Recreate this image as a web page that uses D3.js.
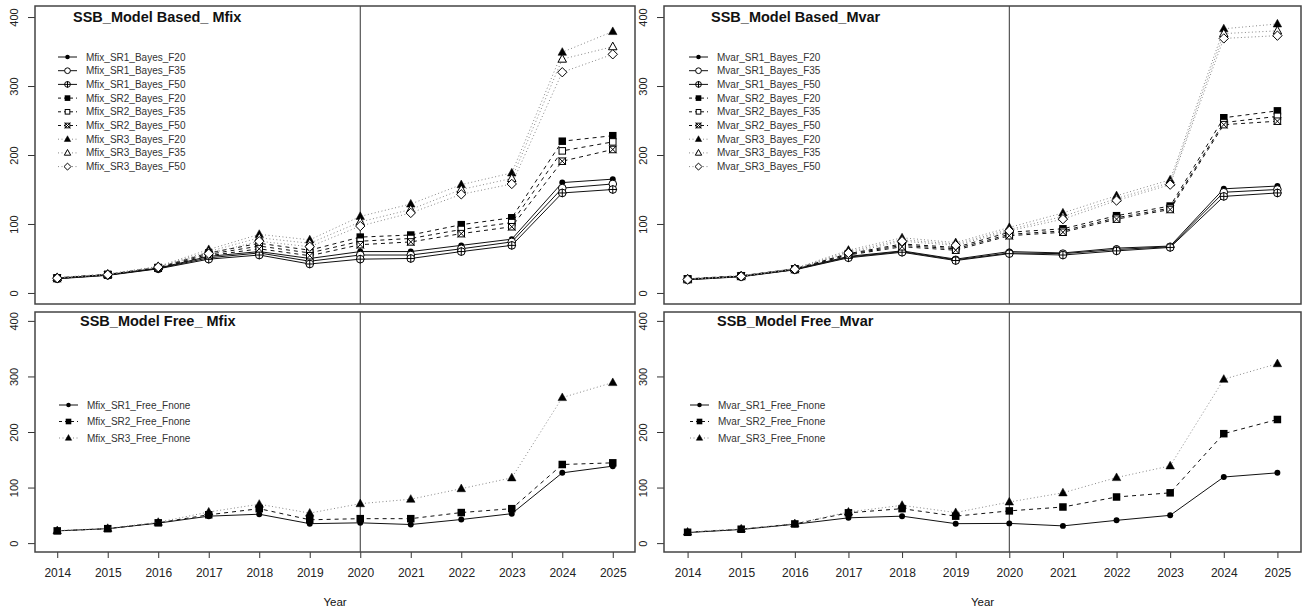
<!DOCTYPE html>
<html>
<head>
<meta charset="utf-8">
<script src="https://cdn.jsdelivr.net/npm/d3@7"></script>
<style>
body { margin: 0; background: #fff; }
text { font-family: Arial, "Liberation Sans", sans-serif; }
</style>
</head>
<body>
<svg id="chart" width="1307" height="612"></svg>
<script>
var years = [2014, 2015, 2016, 2017, 2018, 2019, 2020, 2021, 2022, 2023, 2024, 2025];
var yTicks = [0, 100, 200, 300, 400];

// SSB, model based, Mfix
var mfixSR1F20 = [21.5, 26.5, 36, 53, 60, 50, 60, 60, 69, 78, 160, 165];
var mfixSR1F35 = [21, 26, 35.5, 51, 58, 46, 55, 55, 64, 74, 152, 158];
var mfixSR1F50 = [20.5, 25.5, 35, 49, 55, 42, 49, 50, 60, 69, 145, 150];
var mfixSR2F20 = [22, 27, 37, 58, 72, 62, 81, 84, 99, 109, 220, 228];
var mfixSR2F35 = [21.5, 26.5, 36.5, 56, 68, 58, 75, 79, 92, 102, 206, 219];
var mfixSR2F50 = [21, 26, 36, 54, 64, 54, 70, 74, 86, 96, 191, 208];
var mfixSR3F20 = [22.5, 27.5, 38.5, 63, 85, 77, 111, 129, 157, 174, 349, 379];
var mfixSR3F35 = [22, 27, 38, 60, 80, 72, 103, 121, 150, 166, 339, 357];
var mfixSR3F50 = [21.5, 26.5, 37.5, 57, 75, 67, 97, 116, 143, 158, 320, 346];

// SSB, model based, Mvar
var mvarSR1F20 = [20, 24.5, 34.5, 53, 61, 49, 60, 58, 65, 68, 151, 155];
var mvarSR1F35 = [19.5, 24, 34, 52, 60, 48, 58, 57, 63, 67, 146, 150];
var mvarSR1F50 = [19, 23.5, 33.5, 51, 59, 47, 57, 55, 61, 66, 140, 145];
var mvarSR2F20 = [20.5, 25, 35, 57, 71, 66, 88, 93, 112, 126, 254, 264];
var mvarSR2F35 = [20, 24.5, 34.5, 56, 69, 64, 85, 90, 109, 123, 247, 256];
var mvarSR2F50 = [19.5, 24, 34, 55, 67, 62, 83, 88, 107, 121, 244, 249];
var mvarSR3F20 = [20.5, 25, 35.5, 62, 80, 73, 95, 116, 141, 164, 383, 390];
var mvarSR3F35 = [20, 24.5, 35, 60, 77, 71, 92, 111, 137, 160, 376, 380];
var mvarSR3F50 = [19.5, 24, 34.5, 58, 75, 69, 90, 107, 134, 157, 369, 373];

// SSB, model free
var mfixSR1Free = [22, 26, 36, 48.5, 52, 35, 36.5, 33.5, 42.5, 53, 126.5, 138.5];
var mfixSR2Free = [22, 26, 36.5, 51, 62, 42, 44, 44, 55, 62, 141.5, 144.5];
var mfixSR3Free = [22.5, 26.5, 37.5, 56, 70, 54, 71, 79, 98, 117.5, 262, 289];
var mvarSR1Free = [19, 24.5, 34, 45.5, 48.5, 35, 35.5, 31, 41, 50, 119, 126.5];
var mvarSR2Free = [19.5, 25, 34.5, 54.5, 62, 48.5, 58, 65, 83, 90.5, 197, 222.5];
var mvarSR3Free = [20, 25.5, 35, 56, 68, 55, 74, 90.5, 118, 139, 295, 323];

function based(prefix, d) {
  return [
    {name: prefix + "_SR1_Bayes_F20", values: d[0], lty: "solid", pch: "dot"},
    {name: prefix + "_SR1_Bayes_F35", values: d[1], lty: "solid", pch: "circle"},
    {name: prefix + "_SR1_Bayes_F50", values: d[2], lty: "solid", pch: "circlePlus"},
    {name: prefix + "_SR2_Bayes_F20", values: d[3], lty: "dash", pch: "square"},
    {name: prefix + "_SR2_Bayes_F35", values: d[4], lty: "dash", pch: "squareOpen"},
    {name: prefix + "_SR2_Bayes_F50", values: d[5], lty: "dash", pch: "squareX"},
    {name: prefix + "_SR3_Bayes_F20", values: d[6], lty: "dot", pch: "triangle"},
    {name: prefix + "_SR3_Bayes_F35", values: d[7], lty: "dot", pch: "triangleOpen"},
    {name: prefix + "_SR3_Bayes_F50", values: d[8], lty: "dot", pch: "diamond"}
  ];
}
function free(prefix, d) {
  return [
    {name: prefix + "_SR1_Free_Fnone", values: d[0], lty: "solid", pch: "dot"},
    {name: prefix + "_SR2_Free_Fnone", values: d[1], lty: "dash", pch: "square"},
    {name: prefix + "_SR3_Free_Fnone", values: d[2], lty: "dot", pch: "triangle"}
  ];
}

var panels = [
  {x0: 35, x1: 635, y0: 6, y1: 304, title: "SSB_Model Based_ Mfix", tx: 73, ty: 22,
   lx: 58, ly: 57, lstep: 13.7, xAxis: false,
   series: based("Mfix", [mfixSR1F20, mfixSR1F35, mfixSR1F50, mfixSR2F20, mfixSR2F35, mfixSR2F50, mfixSR3F20, mfixSR3F35, mfixSR3F50])},
  {x0: 664, x1: 1301, y0: 6, y1: 304, title: "SSB_Model Based_Mvar", tx: 711, ty: 22,
   lx: 689, ly: 57, lstep: 13.7, xAxis: false,
   series: based("Mvar", [mvarSR1F20, mvarSR1F35, mvarSR1F50, mvarSR2F20, mvarSR2F35, mvarSR2F50, mvarSR3F20, mvarSR3F35, mvarSR3F50])},
  {x0: 35, x1: 635, y0: 312, y1: 552, title: "SSB_Model Free_ Mfix", tx: 80, ty: 326,
   lx: 59, ly: 405, lstep: 16.5, xAxis: true,
   series: free("Mfix", [mfixSR1Free, mfixSR2Free, mfixSR3Free])},
  {x0: 664, x1: 1301, y0: 312, y1: 552, title: "SSB_Model Free_Mvar", tx: 717, ty: 326,
   lx: 690, ly: 405, lstep: 16.5, xAxis: true,
   series: free("Mvar", [mvarSR1Free, mvarSR2Free, mvarSR3Free])}
];

var ltyStyle = {
  solid: {dash: null, color: "#111", width: 1},
  dash: {dash: "4,4", color: "#111", width: 1},
  dot: {dash: "1,2.5", color: "#888", width: 1}
};

function marker(g, pch, x, y, s) {
  var r = s / 2;
  if (pch == "dot") {
    g.append("circle").attr("cx", x).attr("cy", y).attr("r", r * 0.85).attr("fill", "#000");
  } else if (pch == "circle") {
    g.append("circle").attr("cx", x).attr("cy", y).attr("r", r * 0.9).attr("fill", "#fff").attr("stroke", "#000");
  } else if (pch == "circlePlus") {
    g.append("circle").attr("cx", x).attr("cy", y).attr("r", r * 0.9).attr("fill", "#fff").attr("stroke", "#000");
    g.append("path").attr("d", "M" + (x - r) + "," + y + "H" + (x + r) + "M" + x + "," + (y - r) + "V" + (y + r)).attr("stroke", "#000");
  } else if (pch == "square") {
    g.append("rect").attr("x", x - r).attr("y", y - r).attr("width", s).attr("height", s).attr("fill", "#000");
  } else if (pch == "squareOpen") {
    g.append("rect").attr("x", x - r + 0.5).attr("y", y - r + 0.5).attr("width", s - 1).attr("height", s - 1).attr("fill", "#fff").attr("stroke", "#000");
  } else if (pch == "squareX") {
    g.append("rect").attr("x", x - r + 0.5).attr("y", y - r + 0.5).attr("width", s - 1).attr("height", s - 1).attr("fill", "#fff").attr("stroke", "#000");
    g.append("path").attr("d", "M" + (x - r) + "," + (y - r) + "L" + (x + r) + "," + (y + r) + "M" + (x - r) + "," + (y + r) + "L" + (x + r) + "," + (y - r)).attr("stroke", "#000");
  } else if (pch == "triangle" || pch == "triangleOpen") {
    var h = s * 0.9;
    g.append("path")
      .attr("d", "M" + x + "," + (y - h * 0.6) + "L" + (x + r) + "," + (y + h * 0.4) + "L" + (x - r) + "," + (y + h * 0.4) + "Z")
      .attr("fill", pch == "triangle" ? "#000" : "#fff").attr("stroke", "#000").attr("stroke-width", pch == "triangle" ? 0.5 : 1);
  } else if (pch == "diamond") {
    g.append("path")
      .attr("d", "M" + x + "," + (y - r * 1.1) + "L" + (x + r * 1.1) + "," + y + "L" + x + "," + (y + r * 1.1) + "L" + (x - r * 1.1) + "," + y + "Z")
      .attr("fill", "#fff").attr("stroke", "#000");
  }
}

function markerSize(pch) {
  if (pch == "dot") return 7;
  if (pch == "square" || pch == "squareOpen" || pch == "squareX") return 7.5;
  return 8.5;
}

var svg = d3.select("#chart");

panels.forEach(function(p) {
  // R style: 4% padding on both axes
  var x = d3.scaleLinear().domain([2014 - 0.44, 2025 + 0.44]).range([p.x0, p.x1]);
  var y = d3.scaleLinear().domain([-16, 416]).range([p.y1, p.y0]);
  var g = svg.append("g");

  // y axis
  var ya = g.append("g").attr("transform", "translate(" + p.x0 + ",0)")
    .call(d3.axisLeft(y).tickValues(yTicks).tickSize(7).tickSizeOuter(0));
  ya.select(".domain").remove();
  ya.selectAll("line").attr("stroke", "#333");
  ya.selectAll("text")
    .attr("x", 0).attr("dy", null)
    .attr("transform", "translate(-21,0) rotate(-90)")
    .attr("text-anchor", "middle")
    .attr("dominant-baseline", "central")
    .attr("fill", "#222").style("font-size", "11px").style("font-family", "Arial, 'Liberation Sans', sans-serif");

  if (p.xAxis) {
    var xa = g.append("g").attr("transform", "translate(0," + p.y1 + ")")
      .call(d3.axisBottom(x).tickValues(years).tickFormat(d3.format("d")).tickSize(6).tickPadding(10).tickSizeOuter(0));
    xa.select(".domain").remove();
    xa.selectAll("line").attr("stroke", "#333");
    xa.selectAll("text").attr("fill", "#222").style("font-size", "12px").style("font-family", "Arial, 'Liberation Sans', sans-serif");
    g.append("text").attr("x", (p.x0 + p.x1) / 2).attr("y", 606)
      .attr("text-anchor", "middle").attr("fill", "#111").style("font-size", "11.5px").text("Year");
  }

  // vertical reference line at 2020
  g.append("line").attr("x1", x(2020)).attr("x2", x(2020)).attr("y1", p.y0).attr("y2", p.y1)
    .attr("stroke", "#333").attr("stroke-width", 1);

  var line = d3.line().x(function(d, i) { return x(years[i]); }).y(function(d) { return y(d); });

  p.series.forEach(function(s) {
    var st = ltyStyle[s.lty];
    g.append("path").datum(s.values).attr("d", line)
      .attr("fill", "none").attr("stroke", st.color).attr("stroke-width", st.width)
      .attr("stroke-dasharray", st.dash);
    var mg = g.append("g");
    s.values.forEach(function(v, i) {
      marker(mg, s.pch, x(years[i]), y(v), markerSize(s.pch));
    });
  });

  // legend
  var lg = g.append("g");
  p.series.forEach(function(s, i) {
    var ly = p.ly + i * p.lstep;
    var st = ltyStyle[s.lty];
    lg.append("line").attr("x1", p.lx).attr("x2", p.lx + 19).attr("y1", ly).attr("y2", ly)
      .attr("stroke", st.color).attr("stroke-dasharray", st.dash == "4,4" ? "3,3" : st.dash);
    marker(lg, s.pch, p.lx + 9.5, ly, markerSize(s.pch) * 0.75);
    lg.append("text").attr("x", p.lx + 28).attr("y", ly).attr("dy", "0.35em")
      .attr("fill", "#333").style("font-size", "10px").text(s.name);
  });

  // title
  g.append("text").attr("x", p.tx).attr("y", p.ty)
    .attr("fill", "#111").style("font-size", "14.5px").style("font-weight", "bold").text(p.title);

  // box
  g.append("rect").attr("x", p.x0).attr("y", p.y0).attr("width", p.x1 - p.x0).attr("height", p.y1 - p.y0)
    .attr("fill", "none").attr("stroke", "#444").attr("stroke-width", 1.5);
});
</script>
</body>
</html>
